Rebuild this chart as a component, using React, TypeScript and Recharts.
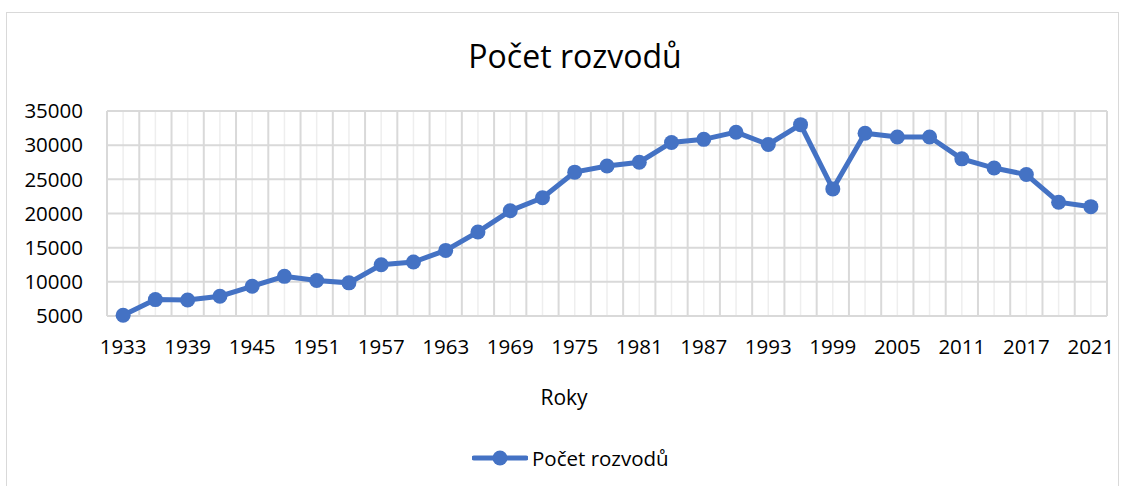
import React from 'react';
import { LineChart, Line, XAxis, YAxis, CartesianGrid } from 'recharts';

// years on the category axis (every other one is labelled)
const years = [
  1933, 1936, 1939, 1942, 1945, 1948, 1951, 1954, 1957, 1960, 1963,
  1966, 1969, 1972, 1975, 1978, 1981, 1984, 1987, 1990, 1993, 1996,
  1999, 2002, 2005, 2008, 2011, 2014, 2017, 2019, 2021,
];

// number of divorces
const divorces = [
  5100, 7400, 7350, 7900, 9350, 10800, 10200, 9850, 12500, 12900, 14600,
  17300, 20400, 22300, 26050, 26950, 27500, 30400, 30850, 31900, 30100, 33000,
  23600, 31750, 31200, 31200, 28000, 26650, 25700, 21650, 21000,
];

const yTicks = [5000, 10000, 15000, 20000, 25000, 30000, 35000];

const seriesName = 'Počet rozvodů';
const blue = '#4472C4';
const font = '"Open Sans", sans-serif';

const W = 1131;
const H = 486;
const margin = { top: 111, right: 24, bottom: 80, left: 0 };
const yAxisWidth = 107;
const plotWidth = W - margin.left - margin.right - yAxisWidth;
const halfCategory = plotWidth / years.length / 2;

const chartData = years.map((year, i) => ({ year: String(year), count: divorces[i] }));

// gridlines on category boundaries (major) and centres (minor), like Excel
const majorLines = ({ offset }: any) =>
  Array.from({ length: years.length + 1 }, (_, k) => offset.left + (k * offset.width) / years.length);
const minorLines = ({ offset }: any) =>
  Array.from({ length: years.length }, (_, k) => offset.left + ((k + 0.5) * offset.width) / years.length);

const App: React.FC = () => {
  return (
    <div style={{ position: 'absolute', left: 0, top: 0, width: W, height: H, background: '#fff', overflow: 'hidden', fontFamily: font }}>
      <div style={{ position: 'absolute', left: 6, top: 12, width: 1111, height: 480, border: '1px solid #d9d9d9' }} />

      <div style={{ position: 'absolute', left: 0, top: 34, width: 1150, textAlign: 'center', fontSize: 32, lineHeight: '44px', color: '#000' }}>
        {seriesName}
      </div>

      <LineChart
        width={W}
        height={H}
        data={chartData}
        margin={margin}
        style={{ position: 'absolute', left: 0, top: 0 }}
      >
        <CartesianGrid horizontal={false} stroke="#eeeeee" strokeWidth={1.5} verticalCoordinatesGenerator={minorLines} />
        <CartesianGrid stroke="#d9d9d9" strokeWidth={2} verticalCoordinatesGenerator={majorLines} />
        <XAxis
          dataKey="year"
          interval={1}
          padding={{ left: halfCategory, right: halfCategory }}
          axisLine={false}
          tickLine={false}
          tickSize={0}
          tickMargin={23}
          height={90}
          tick={{ fill: '#000', fontSize: 20.5, fontFamily: font }}
          label={{ value: 'Roky', position: 'insideBottom', offset: 1, dx: -43, fill: '#000', fontSize: 21, fontFamily: font }}
        />
        <YAxis
          domain={[5000, 35000]}
          ticks={yTicks}
          width={yAxisWidth}
          axisLine={false}
          tickLine={false}
          tickSize={0}
          tickMargin={24}
          tick={{ fill: '#000', fontSize: 20.5, fontFamily: font }}
        />
        <Line
          type="linear"
          dataKey="count"
          name={seriesName}
          stroke={blue}
          strokeWidth={5}
          dot={{ r: 7.5, fill: blue, stroke: blue, strokeWidth: 0 }}
          activeDot={false}
          isAnimationActive={false}
        />
      </LineChart>

      <div style={{ position: 'absolute', left: 472, top: 444, height: 28, display: 'flex', alignItems: 'center', fontSize: 20.5, color: '#000' }}>
        <svg width={56} height={18} style={{ marginRight: 4 }}>
          <line x1={2} y1={9} x2={54} y2={9} stroke={blue} strokeWidth={5} strokeLinecap="round" />
          <circle cx={28} cy={9} r={7.5} fill={blue} />
        </svg>
        <span>{seriesName}</span>
      </div>
    </div>
  );
};

export default App;
